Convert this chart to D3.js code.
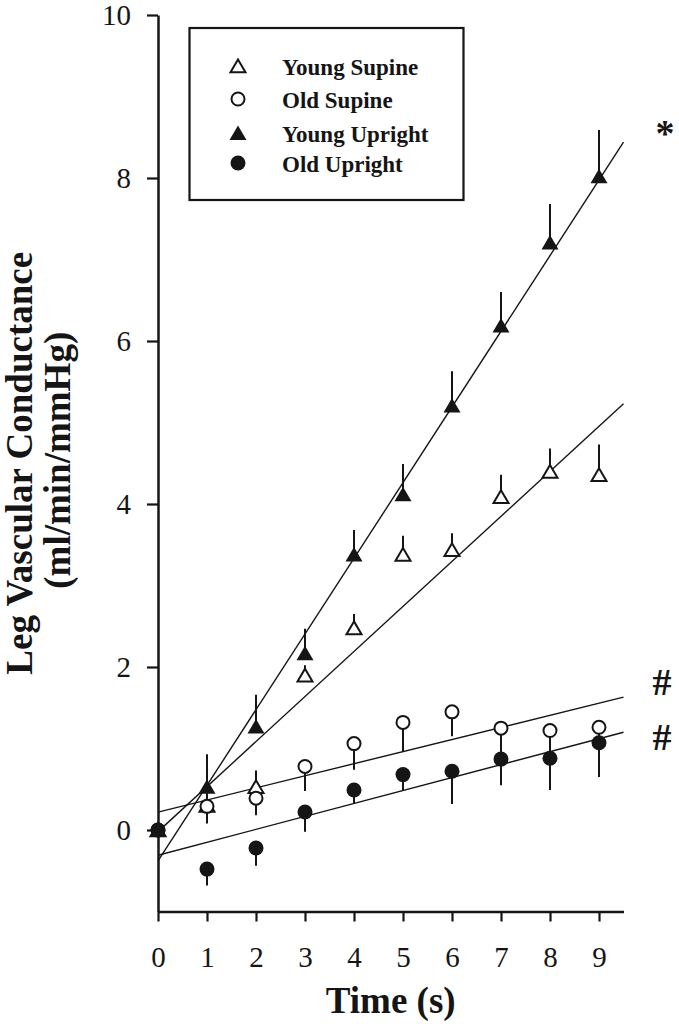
<!DOCTYPE html>
<html>
<head>
<meta charset="utf-8">
<script src="https://cdn.jsdelivr.net/npm/d3@7/dist/d3.min.js"></script>
<style>
  html, body { margin: 0; padding: 0; background: #fff; }
  svg { display: block; }
</style>
</head>
<body>
<div id="chart"></div>
<script>
// ---------- data ----------
const times = [0, 1, 2, 3, 4, 5, 6, 7, 8, 9];

const youngSupineMean = [0, 0.30, 0.53, 1.90, 2.48, 3.38, 3.44, 4.09, 4.40, 4.36];
const youngSupineErr  = [0, 0.15, 0.20, 0.12, 0.17, 0.23, 0.20, 0.27, 0.28, 0.37];

const oldSupineMean = [0, 0.29, 0.39, 0.78, 1.06, 1.32, 1.45, 1.25, 1.22, 1.26];
const oldSupineErr  = [0, 0.21, 0.21, 0.30, 0.32, 0.36, 0.30, 0.35, 0.35, 0.20];

const youngUprightMean = [0, 0.53, 1.27, 2.17, 3.38, 4.12, 5.21, 6.19, 7.21, 8.02];
const youngUprightErr  = [0, 0.40, 0.39, 0.30, 0.30, 0.37, 0.42, 0.41, 0.47, 0.57];

const oldUprightMean = [0, -0.48, -0.22, 0.22, 0.49, 0.68, 0.72, 0.87, 0.88, 1.07];
const oldUprightErr  = [0, 0.20, 0.22, 0.24, 0.16, 0.20, 0.40, 0.32, 0.39, 0.42];

// regression line end values at x = 0 and x = 9.5
const lineX = [0, 9.5];
const youngUprightLine = [-0.38, 8.44];
const youngSupineLine  = [-0.02, 5.23];
const oldSupineLine    = [0.22, 1.63];
const oldUprightLine   = [-0.31, 1.20];

const seriesNames = ["Young Supine", "Old Supine", "Young Upright", "Old Upright"];
const yTicks = [0, 2, 4, 6, 8, 10];
const xTicks = [0, 1, 2, 3, 4, 5, 6, 7, 8, 9];
const yTitle1 = "Leg Vascular Conductance";
const yTitle2 = "(ml/min/mmHg)";
const xTitle = "Time (s)";
const sigMarks = ["*", "#", "#"];

// ---------- drawing ----------
const W = 679, H = 1026;
const svg = d3.select("#chart").append("svg").attr("width", W).attr("height", H);
const ink = "#151515";
const serif = "'Liberation Serif', 'Times New Roman', serif";

const x = d3.scaleLinear().domain([0, 9.5]).range([158, 623.5]);
const y = d3.scaleLinear().domain([-1, 10]).range([911.5, 15]);

// axes
const yAxis = svg.append("g").attr("transform", `translate(${x(0)},0)`)
  .call(d3.axisLeft(y).tickValues(yTicks).tickSize(11).tickSizeOuter(0).tickPadding(16).tickFormat(d3.format("d")));
const xAxis = svg.append("g").attr("transform", `translate(0,${y(-1)})`)
  .call(d3.axisBottom(x).tickValues(xTicks).tickSize(10).tickSizeOuter(0).tickFormat(d3.format("d")));

[yAxis, xAxis].forEach(g => {
  g.select(".domain").attr("stroke", ink).attr("stroke-width", 2.5);
  g.selectAll(".tick line").attr("stroke", ink).attr("stroke-width", 2.2);
  g.selectAll(".tick text").attr("fill", ink).style("font-family", serif).style("font-size", "29px");
});
yAxis.selectAll(".tick text").attr("dy", "0.34em");
xAxis.selectAll(".tick text").attr("y", 0).attr("dy", 0).attr("transform", "translate(0,55)");

// axis titles
svg.append("text").attr("transform", `translate(32,${(y(10) + y(-1)) / 2}) rotate(-90)`)
  .attr("text-anchor", "middle").style("font-family", serif).style("font-weight", "bold")
  .style("font-size", "37px").attr("fill", ink).text(yTitle1);
svg.append("text").attr("transform", `translate(70,${(y(10) + y(-1)) / 2 - 3}) rotate(-90)`)
  .attr("text-anchor", "middle").style("font-family", serif).style("font-weight", "bold")
  .style("font-size", "37px").attr("fill", ink).text(yTitle2);
svg.append("text").attr("x", (x(0) + x(9.5)) / 2).attr("y", 1013)
  .attr("text-anchor", "middle").style("font-family", serif).style("font-weight", "bold")
  .style("font-size", "37px").attr("fill", ink).text(xTitle);

// regression lines
const lineGen = d3.line().x(d => x(d[0])).y(d => y(d[1]));
const lines = [youngUprightLine, youngSupineLine, oldSupineLine, oldUprightLine];
svg.append("g").selectAll("path").data(lines).join("path")
  .attr("d", L => lineGen(lineX.map((xx, i) => [xx, L[i]])))
  .attr("fill", "none").attr("stroke", ink).attr("stroke-width", 1.4);

// marker shapes
const triPath = "M0,-7.5L8.5,7L-8.5,7Z";
function drawMarker(g, type) {
  if (type === "openTri") {
    g.append("path").attr("d", "M0,-6.5L7.5,6.3L-7.5,6.3Z").attr("fill", "#fff").attr("stroke", ink).attr("stroke-width", 2);
  } else if (type === "filledTri") {
    g.append("path").attr("d", triPath).attr("fill", ink);
  } else if (type === "openCirc") {
    g.append("circle").attr("r", 6.5).attr("fill", "#fff").attr("stroke", ink).attr("stroke-width", 2);
  } else {
    g.append("circle").attr("r", 7.5).attr("fill", ink);
  }
}

const series = [
  { mean: youngSupineMean, err: youngSupineErr, dir: -1, type: "openTri" },
  { mean: oldSupineMean, err: oldSupineErr, dir: 1, type: "openCirc" },
  { mean: youngUprightMean, err: youngUprightErr, dir: -1, type: "filledTri" },
  { mean: oldUprightMean, err: oldUprightErr, dir: 1, type: "filledCirc" }
];

series.forEach(s => {
  const g = svg.append("g");
  const pts = times.map((t, i) => ({ t, m: s.mean[i], e: s.err[i] }));
  // error bars (one-sided)
  g.selectAll("line").data(pts.filter(p => p.e > 0)).join("line")
    .attr("x1", p => x(p.t)).attr("x2", p => x(p.t))
    .attr("y1", p => y(p.m))
    .attr("y2", p => s.dir < 0 ? y(p.m + p.e) : y(p.m - p.e))
    .attr("stroke", ink).attr("stroke-width", 2);
  pts.forEach(p => {
    const mg = g.append("g").attr("transform", `translate(${x(p.t)},${y(p.m)})`);
    drawMarker(mg, s.type);
  });
});

// legend
const leg = svg.append("g");
leg.append("rect").attr("x", 189.5).attr("y", 28).attr("width", 274).attr("height", 172)
  .attr("fill", "#fff").attr("stroke", ink).attr("stroke-width", 2.2);
const legRows = [66, 99, 133, 163];
seriesNames.forEach((name, i) => {
  const mg = leg.append("g").attr("transform", `translate(238,${legRows[i]})`);
  drawMarker(mg, series[i].type);
  leg.append("text").attr("x", 282).attr("y", legRows[i] + 8.5)
    .style("font-family", serif).style("font-weight", "bold").style("font-size", "23px")
    .attr("fill", ink).text(name);
});

// significance marks
const sigPos = [[665, 146], [662, 695], [662, 750]];
svg.append("g").selectAll("text").data(sigMarks).join("text")
  .attr("x", (d, i) => sigPos[i][0]).attr("y", (d, i) => sigPos[i][1])
  .attr("text-anchor", "middle").style("font-family", serif).style("font-weight", "bold")
  .style("font-size", (d, i) => i === 0 ? "38px" : "38px").attr("fill", ink).text(d => d);
</script>
</body>
</html>
